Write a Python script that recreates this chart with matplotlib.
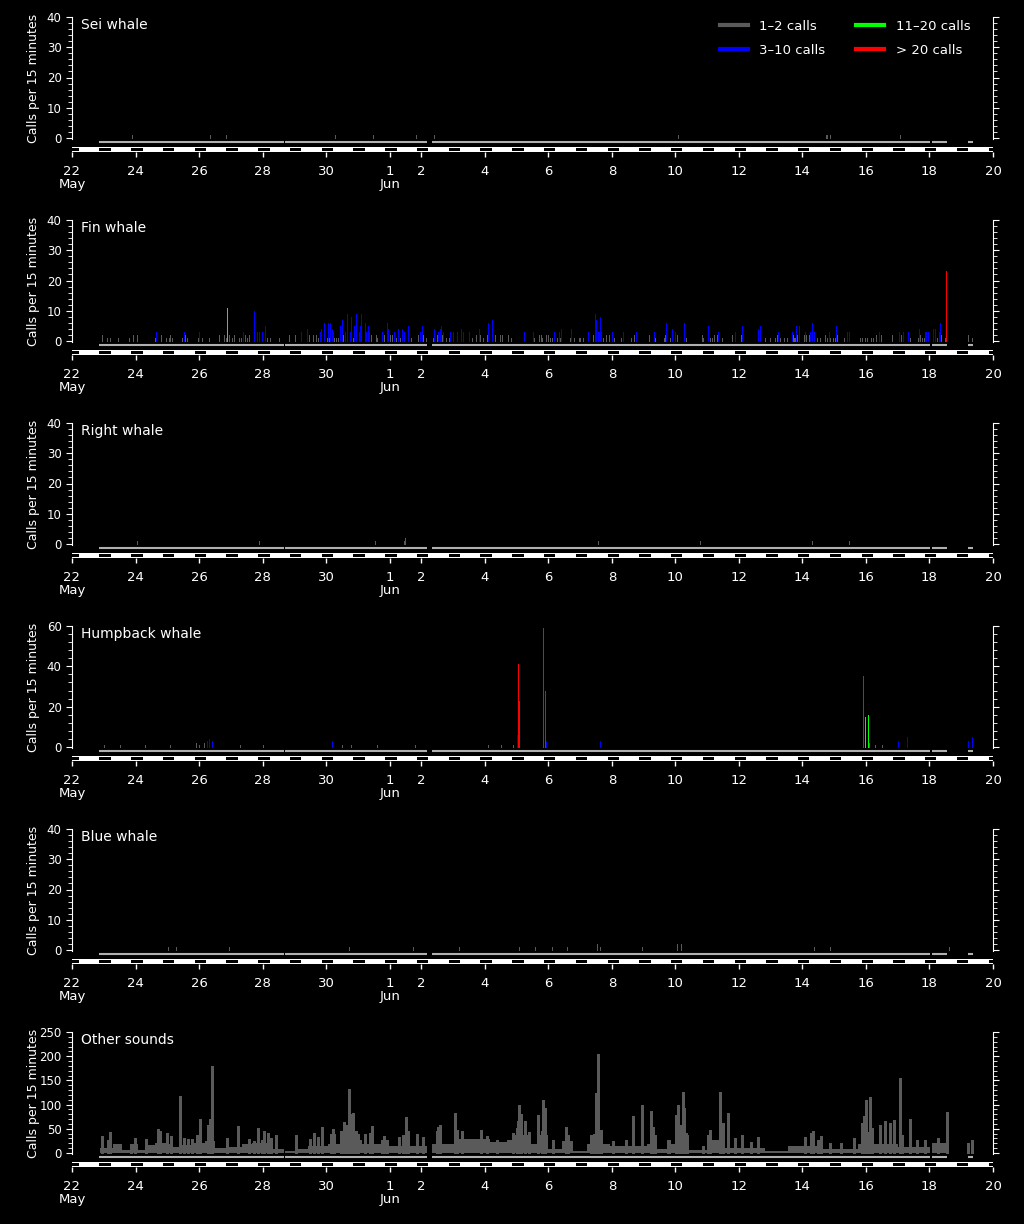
import matplotlib
matplotlib.use("Agg")
import matplotlib.pyplot as plt
from matplotlib.lines import Line2D

# time axis: days counted from 22 May 00:00
tick_days = [0, 2, 4, 6, 8, 10, 11, 13, 15, 17, 19, 21, 23, 25, 27, 29]
tick_labels = ["22\nMay", "24", "26", "28", "30", "1\nJun", "2", "4", "6",
               "8", "10", "12", "14", "16", "18", "20"]

# recording effort segments (days)
effort_start = [0.85, 6.71, 11.33, 27.08, 28.22]
effort_end = [6.66, 11.18, 27.01, 27.54, 28.38]

# night (hours, local)
sunset_hour = 20.7
sunrise_hour = 5.3

# calls per 15 minutes
sei_days = [1.88, 4.35, 4.86, 8.28, 9.48, 10.84, 11.41, 19.08, 23.73, 23.76, 23.88, 26.08]
sei_calls = [1, 1, 1, 1, 1, 1, 1, 1, 1, 1, 1, 1]

fin_days = [0.955, 1.112, 1.207, 1.459, 1.795, 1.921, 2.057, 2.624, 2.813, 2.970, 3.054, 3.096,
            3.159, 3.463, 3.568, 3.621, 3.978, 4.104, 4.324, 4.639, 4.796, 4.838, 4.943, 5.027,
            5.111, 5.269, 5.321, 5.447, 5.500, 5.583, 6.150, 6.245, 6.528, 6.843, 7.032, 7.473,
            7.598, 7.682, 7.756, 8.039, 8.092, 8.260, 8.312, 8.375, 8.438, 8.543, 8.858, 9.414,
            9.561, 9.613,
            2.655, 3.537, 4.009, 5.384, 5.741, 5.835, 5.898, 5.993, 6.087, 7.221, 7.410, 7.819,
            7.850, 7.945, 8.071, 8.134, 8.197, 8.228, 8.449, 8.511, 8.595, 8.669, 8.764, 8.795,
            8.889, 8.952, 9.047, 9.078, 9.110, 9.236, 9.267, 9.330, 9.362, 4.891,
            9.834, 10.023, 10.086, 10.212, 10.338, 10.664, 10.905, 11.062, 11.157, 11.356,
            11.482, 11.661, 11.786, 11.881, 12.605, 12.731, 12.857, 12.951, 13.077, 13.329,
            13.487, 13.550, 13.739, 13.833, 14.557, 14.715, 14.778, 14.809, 14.935, 14.998,
            15.061, 15.124, 15.281, 15.376, 15.691, 15.817, 15.974, 16.006, 16.100, 16.415,
            16.730, 16.824, 16.919, 17.076, 17.296, 17.590, 17.706, 18.178, 18.367, 18.650,
            18.682,
            9.771, 9.929, 9.960, 10.149, 10.275, 10.401, 10.464, 10.590, 10.957, 11.031, 11.409,
            11.535, 11.598, 11.629, 11.692, 11.912, 12.007, 12.133, 12.259, 12.322, 12.511,
            12.826, 13.109, 13.235, 14.242, 14.526, 15.187, 15.344, 15.407, 15.722, 16.257,
            16.478, 16.509, 16.572, 16.604, 16.635, 16.667, 17.013, 17.359, 17.769, 18.335,
            18.713,
            18.839, 19.059, 19.343, 19.846, 19.878, 20.098, 20.161, 20.224, 20.298, 20.476,
            20.791, 21.074, 21.830, 21.987, 22.145, 22.208, 22.302, 22.428, 22.523, 22.712,
            22.743, 22.775, 22.838, 23.058, 23.121, 23.215, 23.467, 23.562, 23.719, 23.782,
            23.877, 23.971, 24.034, 24.097, 24.317, 24.821, 24.884, 24.978, 25.041, 25.167,
            25.230, 25.325, 25.482, 25.829, 26.112, 26.395, 26.647, 26.710, 26.773, 26.836,
            27.245, 27.371, 27.497, 28.221, 28.347,
            18.902, 18.996, 19.280, 20.035, 20.350, 20.885, 21.106, 21.610, 21.673, 22.239,
            22.680, 22.806, 22.901, 23.089, 23.247, 23.310, 23.373, 23.845, 24.066, 24.412,
            24.475, 25.419, 26.049, 26.175, 26.333, 26.679, 26.868, 26.899, 26.962, 27.119,
            27.182, 27.308, 27.340, 27.529]
fin_calls = [2, 1, 1, 1, 1, 2, 2, 1, 2, 1, 1, 2,
             1, 1, 2, 1, 1, 1, 1, 2, 2, 1, 2, 1,
             2, 1, 1, 2, 1, 2, 1, 1, 1, 2, 2, 2,
             2, 2, 1, 1, 1, 1, 1, 1, 1, 2, 1, 2,
             2, 1,
             3, 3, 3, 3, 10, 3, 3, 3, 5, 3, 4, 3,
             4, 6, 6, 6, 4, 3, 5, 7, 3, 9, 3, 8,
             5, 9, 3, 5, 9, 6, 3, 5, 3, 11,
             2, 2, 2, 1, 1, 1, 2, 2, 1, 1,
             2, 2, 1, 1, 1, 2, 2, 1, 2, 2,
             2, 2, 2, 1, 1, 2, 2, 1, 2, 2,
             1, 1, 1, 1, 1, 1, 1, 1, 1, 2,
             1, 2, 2, 1, 1, 1, 2, 2, 1, 1,
             2,
             3, 6, 4, 3, 4, 4, 3, 5, 3, 5, 4,
             3, 4, 5, 3, 3, 3, 3, 4, 3, 3,
             4, 6, 7, 3, 3, 3, 3, 4, 4, 3,
             9, 7, 3, 3, 8, 3, 3, 3, 3, 3,
             6,
             1, 2, 1, 2, 1, 1, 1, 2, 2, 1,
             2, 2, 1, 1, 1, 2, 1, 1, 1, 2,
             1, 1, 2, 2, 2, 2, 1, 1, 2, 1,
             1, 1, 1, 2, 1, 1, 1, 1, 1, 1,
             1, 2, 2, 2, 2, 1, 1, 2, 1, 1,
             1, 2, 1, 2, 1,
             4, 3, 6, 5, 3, 3, 5, 4, 5, 3,
             3, 5, 5, 3, 3, 6, 3, 3, 5, 3,
             3, 3, 3, 3, 3, 4, 3, 3, 3, 4,
             4, 3, 6, 23]

right_days = [2.05, 5.89, 9.54, 10.45, 10.50, 16.56, 19.77, 23.30, 24.46]
right_calls = [1, 1, 1, 1, 2, 1, 1, 1, 1]

hump_days = [1.00, 1.50, 2.30, 3.10, 3.90, 4.00, 4.15, 4.25, 4.30, 4.40, 5.30, 6.00, 8.19, 8.50,
             8.80, 9.60, 10.80, 13.10, 13.50, 13.90, 14.00, 14.03, 14.05, 14.08, 14.84, 14.90,
             14.93, 16.63, 24.90, 24.97, 25.06, 25.10, 25.30, 25.50, 26.00, 26.30, 28.20, 28.35]
hump_calls = [1, 1, 1, 1, 2, 1, 2, 3, 4, 3, 1, 1, 3, 1,
              1, 1, 1, 1, 1, 1, 6, 13, 41, 23, 59, 28,
              3, 3, 35, 15, 16, 2, 1, 1, 3, 5, 3, 5]

blue_days = [3.02, 3.27, 4.94, 8.72, 10.74, 12.20, 14.07, 14.57, 15.10, 15.60, 16.53, 16.63,
             17.95, 19.05, 19.18, 23.36, 23.86, 27.60]
blue_calls = [1, 1, 1, 1, 1, 1, 1, 1, 1, 1, 2, 1,
              1, 2, 2, 1, 1, 1]

# other sounds: background level per stretch plus individual peaks
other_base_start = [0.88, 1.30, 1.56, 1.83, 2.09, 2.40, 2.61, 2.98, 3.19, 3.40, 3.77, 4.19,
                    4.50, 4.92, 5.34, 5.66, 6.29, 6.71, 7.02, 7.44, 8.07, 8.60, 9.12, 9.85,
                    11.33, 12.16, 13.16, 13.69, 13.95, 14.42, 14.63, 15.00, 15.42, 15.79, 16.21,
                    16.94, 18.10, 18.41, 18.83, 19.41, 20.04, 20.56, 21.82, 22.56, 23.61, 24.76,
                    26.02, 27.08]
other_base_end = [1.30, 1.56, 1.83, 2.09, 2.40, 2.61, 2.98, 3.19, 3.40, 3.77, 4.19, 4.50,
                  4.92, 5.34, 5.66, 6.29, 6.66, 7.02, 7.44, 8.07, 8.60, 9.12, 9.85, 11.17,
                  12.16, 13.16, 13.69, 13.95, 14.42, 14.63, 15.00, 15.42, 15.79, 16.21, 16.94,
                  18.10, 18.41, 18.83, 19.41, 20.04, 20.56, 21.82, 22.56, 23.61, 24.76, 26.02,
                  27.01, 27.54]
other_base_level = [10, 18, 6, 18, 6, 16, 20, 18, 12, 16, 21, 24,
                    10, 13, 19, 20, 8, 5, 8, 15, 19, 26, 19, 14,
                    19, 29, 22, 26, 38, 19, 38, 8, 25, 5, 19,
                    14, 19, 8, 19, 6, 26, 10, 5, 14, 8, 19,
                    13, 20]

other_days = [0.955, 1.144, 1.207, 2.718, 2.781, 3.002, 3.117, 3.411, 3.537, 3.663, 3.936,
              4.020, 4.293, 4.356, 4.419, 5.216, 5.846, 6.056, 6.161, 6.434, 7.042, 7.609,
              7.735, 7.881, 8.207, 8.260, 8.574, 8.637, 8.732, 8.774, 8.858, 8.931, 9.372,
              9.445, 9.770, 1.858, 1.983, 2.319, 3.768, 4.870, 5.573, 5.741, 5.972, 6.255,
              7.494, 8.155, 8.470, 9.015, 9.225,
              9.824, 9.929, 10.296, 10.412, 10.527, 10.590, 10.874, 11.063, 11.482, 11.535,
              11.598, 12.070, 12.133, 12.269, 12.888, 13.056, 13.371, 13.875, 14.001, 14.054,
              14.085, 14.148, 14.274, 14.400, 14.683, 14.788, 14.840, 14.893, 15.134, 15.554,
              15.628, 16.331, 16.446, 16.509, 16.572, 16.646, 17.045, 17.444, 17.675, 17.958,
              18.244, 18.307, 18.360, 18.780,
              18.808, 19.007, 19.091, 19.175, 19.248, 19.280, 19.322, 19.375, 19.858, 20.035,
              20.098, 20.413, 20.508, 20.666, 20.886, 21.107, 21.391, 21.610, 23.080, 23.270,
              23.343, 23.501, 23.585, 23.868, 24.204, 24.624, 24.866, 24.929, 25.013, 25.055,
              25.139, 25.202, 25.433, 25.601, 25.748, 25.895, 26.084, 26.126, 26.399, 26.622,
              26.863, 27.283, 27.544, 28.222, 28.347]
other_calls = [36, 27, 43, 50, 46, 42, 35, 117, 32, 28, 37,
               71, 58, 71, 179, 56, 52, 46, 41, 37, 37, 42,
               34, 54, 50, 39, 64, 58, 133, 81, 83, 46, 42,
               56, 27, 19, 31, 29, 29, 31, 29, 24, 27, 31,
               28, 39, 46, 39, 39,
               35, 27, 33, 37, 75, 46, 40, 33, 46, 54,
               58, 83, 48, 46, 48, 35, 27, 42, 51, 67,
               100, 81, 67, 44, 79, 45, 110, 94, 27, 54,
               37, 37, 40, 125, 204, 48, 25, 27, 77, 100,
               87, 54, 37, 27,
               27, 79, 100, 58, 127, 94, 42, 37, 15, 37,
               48, 127, 62, 83, 31, 37, 23, 33, 33, 42,
               46, 27, 35, 21, 21, 31, 62, 77, 110, 44,
               115, 52, 58, 67, 62, 69, 154, 37, 71, 27,
               27, 32, 85, 21, 27]

GRAY = "#5a5a5a"
EFFORT = "#b0b0b0"


def call_color(n):
    if n <= 2:
        return GRAY
    if n <= 10:
        return "#0000ff"
    if n <= 20:
        return "#00ff00"
    return "#ff0000"


def fx(x):
    return x / 1024.0


def fy(y):
    return 1.0 - y / 1224.0


panels = [
    ("Sei whale", sei_days, sei_calls, 40, 10, 2),
    ("Fin whale", fin_days, fin_calls, 40, 10, 2),
    ("Right whale", right_days, right_calls, 40, 10, 2),
    ("Humpback whale", hump_days, hump_calls, 60, 20, 4),
    ("Blue whale", blue_days, blue_calls, 40, 10, 2),
    ("Other sounds", other_days, other_calls, 250, 50, 10),
]

fig = plt.figure(figsize=(10.24, 12.24), dpi=100, facecolor="black")

for i, (name, days, calls, ymax, major, minor) in enumerate(panels):
    off = i * 203.0
    u = ymax / 121.0
    ax = fig.add_axes([fx(72), fy(145 + off), 921 / 1024.0, 128 / 1224.0])
    ax.set_facecolor("black")
    ax.set_xlim(0, 29)
    ax.set_ylim(-7 * u, ymax)

    if name == "Other sounds":
        ax.bar(other_base_start, other_base_level,
               width=[e - s for s, e in zip(other_base_start, other_base_end)],
               align="edge", color=GRAY, linewidth=0)
        ax.vlines(days, 0, calls, colors=GRAY, lw=1.0, antialiased=False)
    else:
        ax.vlines(days, 0, calls, colors=[call_color(c) for c in calls], lw=0.72,
                  antialiased=False)

    ax.hlines([-3.5 * u] * len(effort_start), effort_start, effort_end,
              colors=EFFORT, lw=1.5)

    for side in ["top", "bottom"]:
        ax.spines[side].set_visible(False)
    for side in ["left", "right"]:
        ax.spines[side].set_color("white")
        ax.spines[side].set_bounds(-u, ymax)
    ax.set_xticks([])
    ax.set_yticks(range(0, ymax + 1, major))
    ax.set_yticks(range(0, ymax + 1, minor), minor=True)
    ax.tick_params(axis="y", which="both", colors="white", left=True, right=True,
                   labelright=False, labelsize=8.5, pad=3)
    ax.tick_params(axis="y", which="major", length=4.5)
    ax.tick_params(axis="y", which="minor", length=2.8)

    fig.text(fx(81), fy(25 + off), name, color="white", fontsize=10, va="center", ha="left")
    fig.text(fx(33), fy(78 + off), "Calls per 15 minutes", color="white", fontsize=9,
             rotation=90, va="center", ha="center")

    # day / night bar
    axd = fig.add_axes([fx(72), fy(152 + off), 921 / 1024.0, 5 / 1224.0])
    axd.set_facecolor("white")
    axd.set_xlim(0, 29)
    axd.set_ylim(0, 1)
    nights = [(d + sunset_hour / 24.0 - 1, (24 - sunset_hour + sunrise_hour) / 24.0)
              for d in range(0, 30)]
    axd.broken_barh(nights, (0.2, 0.6), facecolors="black")
    for s in axd.spines.values():
        s.set_visible(False)
    axd.set_yticks([])
    axd.set_xticks(tick_days)
    axd.set_xticklabels(tick_labels, linespacing=0.95)
    axd.tick_params(axis="x", colors="white", length=3.5, width=1, labelsize=9.5, pad=6)

# legend on the first panel
handles = [Line2D([], [], color=GRAY, lw=3),
           Line2D([], [], color="#0000ff", lw=3),
           Line2D([], [], color="#00ff00", lw=3),
           Line2D([], [], color="#ff0000", lw=3)]
labels = ["1\u20132 calls", "3\u201310 calls", "11\u201320 calls", "> 20 calls"]
fig.legend(handles, labels, loc="upper left", bbox_to_anchor=(fx(708), fy(8)),
           ncol=2, frameon=False, labelcolor="white", fontsize=9.5, handlelength=2.1,
           handletextpad=0.9, columnspacing=2.3, labelspacing=0.85)

fig.savefig("out.png", dpi=100, facecolor="black")
